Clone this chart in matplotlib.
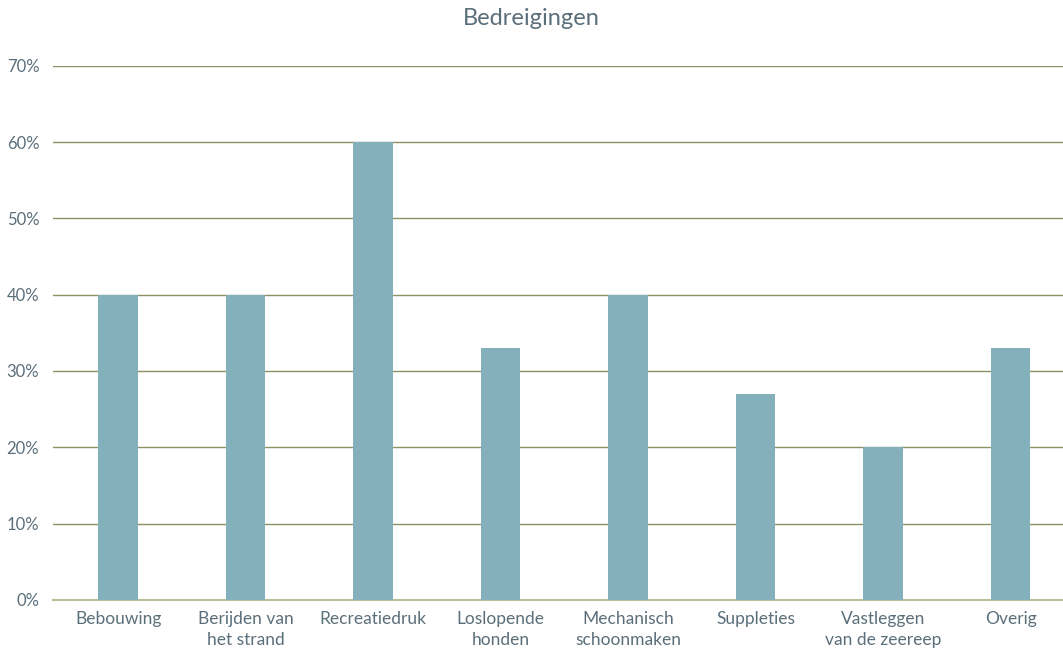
import matplotlib
matplotlib.use("Agg")
import matplotlib.pyplot as plt
from matplotlib.ticker import PercentFormatter

# Data
categories = ["Bebouwing", "Berijden van\nhet strand", "Recreatiedruk", "Loslopende\nhonden",
              "Mechanisch\nschoonmaken", "Suppleties", "Vastleggen\nvan de zeereep", "Overig"]
values = [40, 40, 60, 33, 40, 27, 20, 33]
yticks = [0, 10, 20, 30, 40, 50, 60, 70]

bar_color = "#84B0BB"
grid_color = "#8C9163"
text_color = "#5B6F7B"

plt.rcParams["font.family"] = ["Lato", "DejaVu Sans"]

fig = plt.figure(figsize=(10.63, 6.52), dpi=100)
ax = fig.add_axes([0.05, 0.08, 0.95, 0.819])

x = list(range(len(categories)))
ax.bar(x, values, width=0.31, color=bar_color, zorder=3)

ax.set_ylim(0, 70)
ax.set_xlim(-0.51, 7.41)
ax.set_yticks(yticks)
ax.yaxis.set_major_formatter(PercentFormatter(decimals=0))
ax.set_xticks(x)
ax.set_xticklabels(categories, fontsize=12.5, color=text_color, linespacing=1.35)
ax.tick_params(axis="y", labelsize=12, labelcolor=text_color, length=0, pad=10)
ax.tick_params(axis="x", length=0, pad=8)

ax.grid(axis="y", color=grid_color, linewidth=1, zorder=0)
for s in ["top", "right", "left"]:
    ax.spines[s].set_visible(False)
ax.spines["bottom"].set_color("#B7BE98")
ax.spines["bottom"].set_linewidth(1.5)

fig.suptitle("Bedreigingen", fontsize=17, color=text_color, y=0.987)

fig.savefig("out.png", dpi=100)
